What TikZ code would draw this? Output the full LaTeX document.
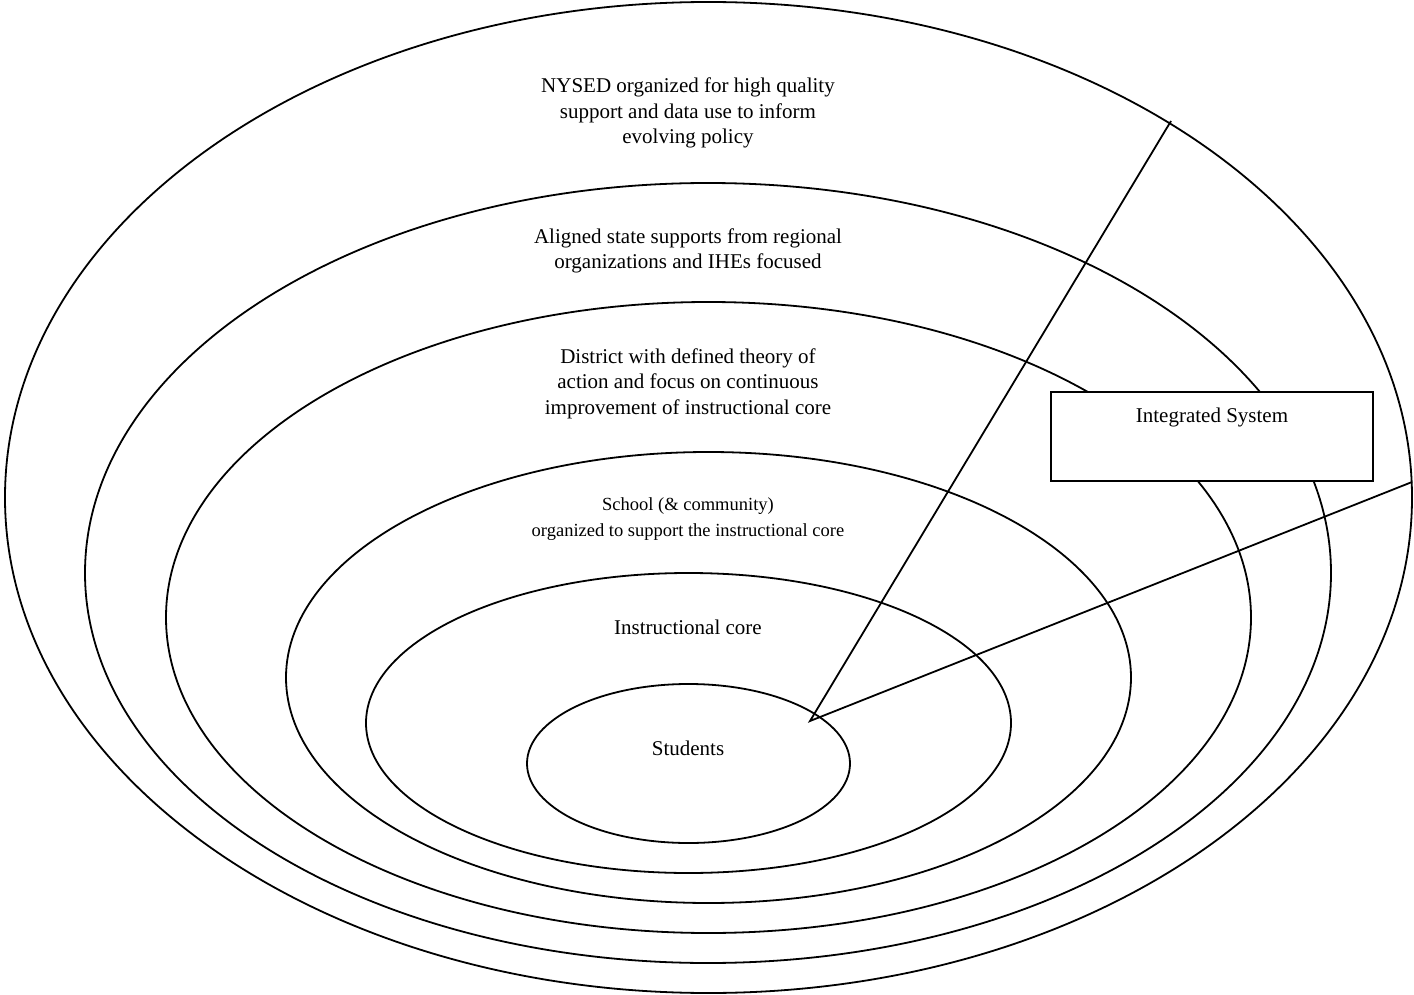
\documentclass[tikz,border=0pt]{standalone}
\usepackage{fontspec}
\setmainfont{Liberation Serif}

\begin{document}
\begin{tikzpicture}[x=1pt,y=-1pt,line width=1.8pt,
	ring/.style={draw,line width=1.8pt},
	lbl/.style={align=center,inner sep=0pt,font=\fontsize{21}{25.5}\selectfont},
	smalllbl/.style={align=center,inner sep=0pt,font=\fontsize{18.5}{26}\selectfont},
	sysbox/.style={draw,fill=white,anchor=north,inner ysep=0pt,minimum width=322pt,
		text height=31pt,text depth=58pt,font=\fontsize{21}{25.5}\selectfont}]
	\useasboundingbox (0,0) rectangle (1414,995);
	\draw[ring] (708.5,497.5) ellipse [x radius=703.5,y radius=495.5];
	\draw[ring] (708,573) ellipse [x radius=623,y radius=390];
	\draw[ring] (708.5,617.5) ellipse [x radius=542.5,y radius=315.5];
	\draw[ring] (708.5,677.5) ellipse [x radius=422.5,y radius=225.5];
	\draw[ring] (688.5,723) ellipse [x radius=322.5,y radius=150];
	\draw[ring] (688.5,763.5) ellipse [x radius=161.5,y radius=79.5];
	\node[lbl] (nysed) at (688,113) {NYSED organized for high quality\\support and data use to inform\\evolving policy};
	\node[lbl] (state) at (688,251) {Aligned state supports from regional\\organizations and IHEs focused};
	\node[lbl] (district) at (688,383.5) {District with defined theory of\\action and focus on continuous\\improvement of instructional core};
	\node[smalllbl] (school) at (688,519) {School (\& community)\\organized to support the instructional core};
	\node[lbl] (core) at (688,627) {Instructional core};
	\node[lbl] (students) at (688,748) {Students};
	\node[sysbox] (integ) at (1212,391) {Integrated System};
	\coordinate (tip) at (810,721);
	\coordinate (upEnd) at (1171,121);
	\coordinate (rtEnd) at (1412,482);
	\draw (upEnd) -- (tip) -- (rtEnd);
\end{tikzpicture}
\end{document}
